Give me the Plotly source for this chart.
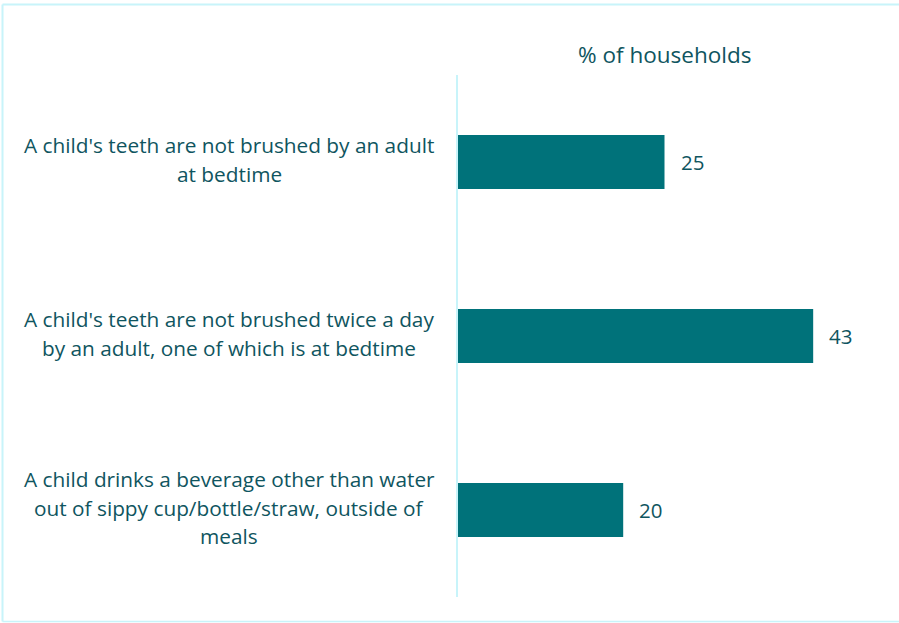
import plotly.graph_objects as go

# Survey items (one label per bar, lines split where the wrap falls)
categories = [
    "A child's teeth are not brushed by an adult<br>at bedtime",
    "A child's teeth are not brushed twice a day<br>by an adult, one of which is at bedtime",
    "A child drinks a beverage other than water<br>out of sippy cup/bottle/straw, outside of<br>meals",
]
values = [25, 43, 20]
axis_title = "% of households"

W, H = 899, 623
M_L, M_R, M_T, M_B = 458, 28, 75, 26
BAR = "#00727A"
TXT = "#0F5560"
EDGE = "#C8F4FA"
FONT = "Open Sans"

fig = go.Figure(
    go.Bar(
        x=values,
        y=list(range(len(categories))),
        orientation="h",
        marker=dict(color=BAR, line=dict(width=0)),
        width=0.31,
        hoverinfo="skip",
    )
)

pw = W - M_L - M_R
ph = H - M_T - M_B


def px_x(p):
    return (p - M_L) / pw


def px_y(p):
    return (H - M_B - p) / ph


annotations = []
line_gap = 28.5
for i, label in enumerate(categories):
    lines = label.split("<br>")
    n = len(lines)
    for j, ln in enumerate(lines):
        annotations.append(dict(
            x=px_x(229), xref="paper", y=i, yref="y",
            text=ln, showarrow=False, xanchor="center", yanchor="middle",
            yshift=((n - 1) / 2 - j) * line_gap + 2.5,
            font=dict(family=FONT, size=20.8, color=TXT),
        ))
for i, v in enumerate(values):
    annotations.append(dict(
        x=v, xref="x", y=i, yref="y", text=str(v), showarrow=False,
        xanchor="left", yanchor="middle", xshift=14,
        font=dict(family=FONT, size=20.5, color=TXT),
    ))
annotations.append(dict(
    x=px_x(664), xref="paper", y=px_y(55), yref="paper", text=axis_title,
    showarrow=False, xanchor="center", yanchor="middle",
    font=dict(family=FONT, size=22.5, color=TXT),
))

shapes = [
    # outer frame (top, left, bottom)
    dict(type="line", xref="paper", yref="paper",
         x0=px_x(2.5), x1=px_x(W + 5), y0=px_y(4.5), y1=px_y(4.5),
         line=dict(color=EDGE, width=2)),
    dict(type="line", xref="paper", yref="paper",
         x0=px_x(2.5), x1=px_x(2.5), y0=px_y(4.5), y1=px_y(621.5),
         line=dict(color=EDGE, width=2)),
    dict(type="line", xref="paper", yref="paper",
         x0=px_x(2.5), x1=px_x(W + 5), y0=px_y(621.5), y1=px_y(621.5),
         line=dict(color=EDGE, width=1.5)),
]

fig.update_layout(
    width=W, height=H,
    margin=dict(l=M_L, r=M_R, t=M_T, b=M_B),
    paper_bgcolor="white", plot_bgcolor="white",
    showlegend=False,
    xaxis=dict(range=[0, 50], visible=False, fixedrange=True),
    yaxis=dict(range=[2.5, -0.5], showticklabels=False, showgrid=False,
               zeroline=False, showline=True, linecolor=EDGE, linewidth=2,
               ticks="", fixedrange=True),
    annotations=annotations,
    shapes=shapes,
)

fig.write_html("out.html", config={"displayModeBar": False})
